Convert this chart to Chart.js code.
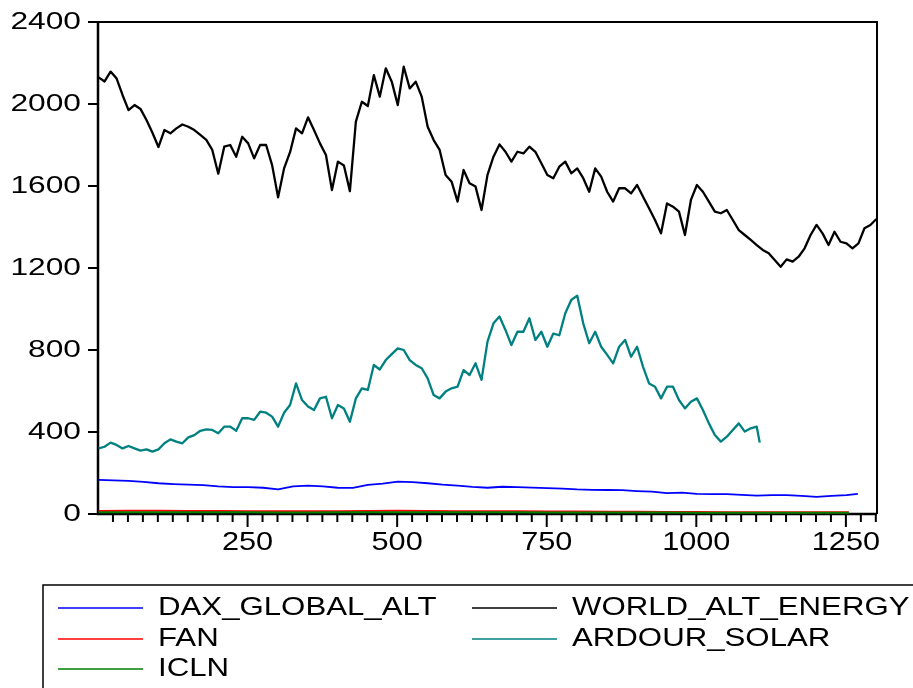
<!DOCTYPE html>
<html>
<head>
<meta charset="utf-8">
<script src="https://cdn.jsdelivr.net/npm/chart.js@4.4.1/dist/chart.umd.min.js"></script>
<style>
  body { margin: 0; background: #fff; }
  canvas { display: block; }
</style>
</head>
<body>
<canvas id="myChart" width="913" height="688"></canvas>
<script>
// Nilai seri (indeks observasi: 1, 1+step, 1+2*step, ..., titik terakhir = endIdx)
const worldAltEnergy = [
    2130, 2110, 2158, 2125, 2044, 1970, 1995, 1976, 1922, 1860,
    1790, 1873, 1857, 1881, 1900, 1889, 1873, 1849, 1825, 1776,
    1660, 1792, 1800, 1743, 1840, 1808, 1735, 1800, 1800, 1702,
    1545, 1686, 1765, 1881, 1857, 1935, 1873, 1808, 1751, 1580,
    1719, 1700, 1575, 1914, 2011, 1990, 2141, 2036, 2174, 2109,
    1995, 2182, 2076, 2109, 2036, 1889, 1824, 1776, 1654, 1621,
    1524, 1678, 1613, 1597, 1483, 1654, 1743, 1803, 1767, 1719,
    1767, 1759, 1792, 1767, 1711, 1654, 1638, 1694, 1719, 1662,
    1686, 1638, 1572, 1686, 1646, 1572, 1524, 1589, 1589, 1564,
    1605, 1548, 1491, 1434, 1369, 1515, 1499, 1475, 1361, 1532,
    1605, 1572, 1524, 1475, 1467, 1483, 1434, 1385, 1361, 1337,
    1312, 1288, 1272, 1239, 1206, 1242, 1231, 1255, 1296, 1361,
    1410, 1369, 1312, 1377, 1328, 1320, 1296, 1320, 1394, 1410,
    1439
];
const ardourSolar = [
    320, 328, 348, 337, 320, 332, 320, 309, 315, 304,
    315, 345, 364, 353, 345, 374, 385, 406, 413, 410,
    394, 426, 426, 406, 467, 467, 459, 499, 494, 475,
    426, 494, 532, 637, 556, 524, 507, 564, 572, 467,
    532, 515, 450, 564, 613, 605, 727, 705, 751, 780,
    808, 800, 751, 727, 711, 662, 580, 564, 597, 613,
    621, 702, 678, 735, 654, 841, 930, 963, 898, 824,
    889, 889, 955, 849, 889, 816, 880, 872, 979, 1044,
    1065, 930, 833, 889, 816, 776, 735, 816, 849, 767,
    816, 718, 637, 621, 564, 621, 621, 556, 515, 548,
    564, 507, 442, 385, 353, 377, 410, 442, 402, 418,
    426, 348
];
const daxGlobalAlt = [
    166, 164, 162, 157, 150, 146, 143, 141, 135, 131,
    131, 128, 120, 135, 138, 135, 128, 127, 142, 148,
    158, 155, 150, 143, 138, 132, 128, 133, 131, 129,
    126, 124, 120, 118, 117, 116, 112, 109, 102, 104,
    98, 97, 97, 93, 90, 92, 92, 88, 84, 88,
    92, 98
];
const fan = [
    15, 16, 16, 15, 15, 14, 14, 13, 14, 15,
    16, 15, 14, 13, 13, 12, 12, 11, 11, 10,
    10, 9, 9, 9, 8, 8, 8
];
const icln = [
    9, 9, 9, 8, 8, 8, 7, 7, 8, 8,
    9, 9, 8, 8, 8, 7, 7, 7, 7, 7,
    6, 6, 6, 6, 6, 6, 6
];

const seriesNames = ['DAX_GLOBAL_ALT', 'WORLD_ALT_ENERGY', 'FAN', 'ARDOUR_SOLAR', 'ICLN'];
const yTicks = [0, 400, 800, 1200, 1600, 2000, 2400];
const xTicks = [250, 500, 750, 1000, 1250];
const xMinorStep = 25;

// ubah array nilai jadi titik {x, y}
function toPoints(values, step, endIdx) {
    return values.map((v, k) => ({
        x: k === values.length - 1 ? endIdx : 1 + k * step,
        y: v
    }));
}

// teks yang sedikit direnggangkan (seperti gambar asli)
function stretchedText(ctx, text, x, y, align, sx) {
    ctx.save();
    ctx.translate(x, y);
    ctx.scale(sx, 1);
    ctx.textAlign = align;
    ctx.fillText(text, 0, 0);
    ctx.restore();
}

const axesAndLegend = {
    id: 'axesAndLegend',
    // bingkai + tick digambar sebelum garis data, supaya garis ICLN tetap terlihat
    beforeDatasetsDraw(chart) {
        const ctx = chart.ctx;
        const area = chart.chartArea;
        const xs = chart.scales.x;
        const ys = chart.scales.y;

        ctx.save();
        ctx.strokeStyle = '#000';
        ctx.fillStyle = '#000';

        ctx.lineWidth = 2;
        ctx.beginPath();
        ctx.moveTo(area.left, area.top);
        ctx.lineTo(area.right, area.top);
        ctx.lineTo(area.right, area.bottom);
        ctx.stroke();
        ctx.lineWidth = 2.5;
        ctx.beginPath();
        ctx.moveTo(area.left, area.top);
        ctx.lineTo(area.left, area.bottom);
        ctx.lineTo(area.right, area.bottom);
        ctx.stroke();

        // sumbu Y
        ctx.lineWidth = 2;
        ctx.font = '23px "Liberation Sans", Arial, sans-serif';
        ctx.textBaseline = 'middle';
        yTicks.forEach(v => {
            const py = ys.getPixelForValue(v);
            ctx.beginPath();
            ctx.moveTo(area.left - 10, py);
            ctx.lineTo(area.left, py);
            ctx.stroke();
            stretchedText(ctx, String(v), area.left - 17, py + 1, 'right', 1.38);
        });

        // sumbu X: tick kecil tiap 25, tick besar di label
        for (let v = xMinorStep; v <= xs.max; v += xMinorStep) {
            const px = xs.getPixelForValue(v);
            const len = xTicks.includes(v) ? 13 : 8;
            ctx.beginPath();
            ctx.moveTo(px, area.bottom);
            ctx.lineTo(px, area.bottom + len);
            ctx.stroke();
        }
        ctx.font = '26px "Liberation Sans", Arial, sans-serif';
        ctx.textBaseline = 'middle';
        xTicks.forEach(v => {
            const px = xs.getPixelForValue(v);
            stretchedText(ctx, String(v), px, 543, 'center', 1.18);
        });
        ctx.restore();
    },
    afterDraw(chart) {
        const ctx = chart.ctx;
        ctx.save();
        // legenda
        ctx.strokeStyle = '#000';
        ctx.lineWidth = 1.5;
        ctx.strokeRect(43, 585, 880, 120);
        const colors = chart.data.datasets.map(d => d.borderColor);
        const slots = [
            { lx: 58, tx: 158, y: 608 },
            { lx: 472, tx: 572, y: 608 },
            { lx: 58, tx: 158, y: 639 },
            { lx: 472, tx: 572, y: 639 },
            { lx: 58, tx: 158, y: 669 }
        ];
        ctx.font = '26px "Liberation Sans", Arial, sans-serif';
        ctx.textBaseline = 'middle';
        seriesNames.forEach((name, i) => {
            const s = slots[i];
            ctx.strokeStyle = colors[i];
            ctx.lineWidth = 1.5;
            ctx.beginPath();
            ctx.moveTo(s.lx, s.y);
            ctx.lineTo(s.lx + 85, s.y);
            ctx.stroke();
            ctx.fillStyle = '#000';
            stretchedText(ctx, name, s.tx, s.y, 'left', 1.2);
        });
        ctx.restore();
    }
};

const ctx = document.getElementById('myChart').getContext('2d');
const myChart = new Chart(ctx, {
    type: 'line',
    data: {
        datasets: [
            { label: seriesNames[0], data: toPoints(daxGlobalAlt, 25, 1270), borderColor: '#0000ff', borderWidth: 1.8, order: 1 },
            { label: seriesNames[1], data: toPoints(worldAltEnergy, 10, 1301), borderColor: '#000000', borderWidth: 2.3, order: 2 },
            { label: seriesNames[2], data: toPoints(fan, 50, 1255), borderColor: '#ff0000', borderWidth: 2, order: 4 },
            { label: seriesNames[3], data: toPoints(ardourSolar, 10, 1106), borderColor: '#008080', borderWidth: 2.3, order: 3 },
            { label: seriesNames[4], data: toPoints(icln, 50, 1255), borderColor: '#008000', borderWidth: 2, order: 0 }
        ]
    },
    options: {
        responsive: false,
        animation: false,
        layout: { padding: { left: 98, right: 36, top: 22, bottom: 174 } },
        elements: {
            point: { radius: 0 },
            line: { tension: 0, borderJoinStyle: 'round' }
        },
        scales: {
            x: { type: 'linear', min: 0, max: 1302, display: false },
            y: { min: 0, max: 2400, display: false }
        },
        plugins: {
            legend: { display: false },
            tooltip: { enabled: false }
        }
    },
    plugins: [axesAndLegend]
});
</script>
</body>
</html>
